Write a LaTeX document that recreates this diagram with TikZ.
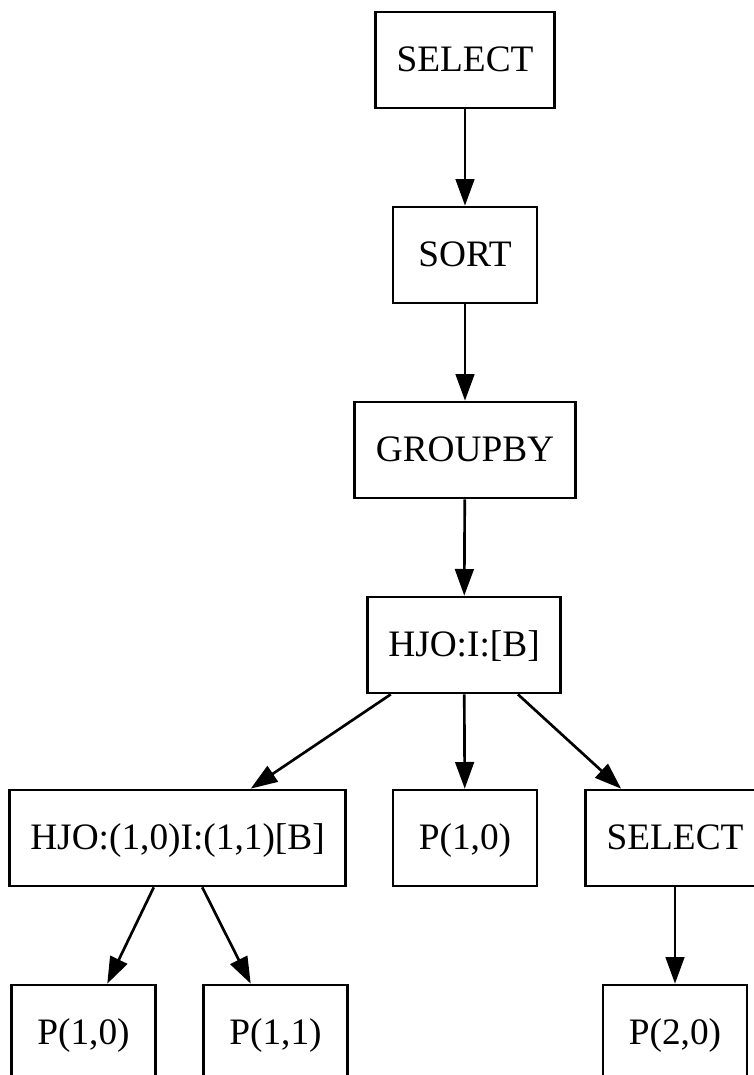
\documentclass[tikz,border=0pt]{standalone}
\usepackage{fontspec}
\setmainfont{Liberation Serif}
\usetikzlibrary{arrows.meta}

\begin{document}
\begin{tikzpicture}[x=0.375pt,y=-0.375pt,
  opbox/.style={draw, line width=1pt, rectangle, minimum width=54pt, minimum height=36pt,
    inner xsep=7.9pt, text height=11.6pt, text depth=3pt, font=\fontsize{14}{16}\selectfont},
  flow/.style={-{Triangle[length=10pt,width=7pt]}, line width=1pt}]
\useasboundingbox (0,0) rectangle (754,1075);
% plan operators, top to bottom
\node[opbox] (select) at (465,60) {SELECT};
\node[opbox] (sort) at (465,255) {SORT};
\node[opbox] (groupby) at (465,450) {GROUPBY};
\node[opbox] (hjo) at (464,645) {HJO:I:[B]};
\node[opbox] (hjoinner) at (177.5,838) {HJO:(1,0)I:(1,1)[B]};
\node[opbox] (pOneZero) at (465,838) {P(1,0)};
\node[opbox] (selectTwo) at (675,838) {SELECT};
\node[opbox] (pOneZeroB) at (83.5,1033) {P(1,0)};
\node[opbox] (pOneOne) at (275.5,1033) {P(1,1)};
\node[opbox] (pTwoZero) at (675,1033) {P(2,0)};
% edges
\draw[flow] (select) -- (sort);
\draw[flow] (sort) -- (groupby);
\draw[flow] (groupby) -- (hjo);
\draw[flow] (hjo) -- (hjoinner);
\draw[flow] (hjo) -- (pOneZero);
\draw[flow] (hjo) -- (selectTwo);
\draw[flow] (hjoinner) -- (pOneZeroB);
\draw[flow] (hjoinner) -- (pOneOne);
\draw[flow] (selectTwo) -- (pTwoZero);
\end{tikzpicture}
\end{document}
